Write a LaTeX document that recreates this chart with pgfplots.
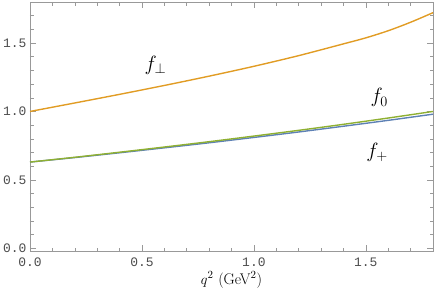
\documentclass[border=0pt]{standalone}
\usepackage{pgfplots}
\pgfplotsset{compat=1.18}
\usepackage{fontspec}
\newfontfamily\tickfont{Liberation Mono}
\definecolor{mblue}{rgb}{0.368,0.507,0.71}
\definecolor{morange}{rgb}{0.881,0.611,0.142}
\definecolor{mgreen}{rgb}{0.560,0.692,0.195}
\definecolor{framegray}{gray}{0.6}
\begin{document}
\begin{tikzpicture}[x=1bp,y=1bp]
\begin{axis}[
  scale only axis, width=403bp, height=249bp,
  xmin=0, xmax=1.8, ymin=-0.02, ymax=1.8,
  axis line style={framegray, line width=0.6pt},
  xtick={0,0.5,1.0,1.5}, ytick={0,0.5,1.0,1.5},
  minor xtick={0.1,0.2,0.3,0.4,0.6,0.7,0.8,0.9,1.1,1.2,1.3,1.4,1.6,1.7},
  minor ytick={0.1,0.2,0.3,0.4,0.6,0.7,0.8,0.9,1.1,1.2,1.3,1.4,1.6,1.7},
  tick style={framegray, line width=0.5pt},
  major tick length=6bp, minor tick length=3.5bp,
  tick align=inside,
  xticklabels={0.0,0.5,1.0,1.5}, yticklabels={0.0,0.5,1.0,1.5},
  ticklabel style={font=\tickfont\fontsize{13}{15}\selectfont, text=black!70},
  xticklabel style={anchor=base, yshift=-15bp},
  xlabel={$q^2$ (GeV$^2$)},
  xlabel style={font=\fontsize{15.5}{18}\selectfont, at={(axis description cs:0.5,0)}, anchor=base, yshift=-33bp},
  clip=true,
]
\addplot[mblue, line width=1.4pt, smooth] coordinates {
 (0,0.63) (0.2,0.663) (0.4,0.698) (0.6,0.734) (0.8,0.771) (1.0,0.81) (1.2,0.85) (1.4,0.892) (1.6,0.935) (1.8,0.98)};
\addplot[mgreen, line width=1.4pt, smooth] coordinates {
 (0,0.63) (0.2,0.665) (0.4,0.702) (0.6,0.74) (0.8,0.779) (1.0,0.82) (1.2,0.862) (1.4,0.906) (1.6,0.952) (1.8,1.0)};
\addplot[morange, line width=1.4pt, smooth] coordinates {
 (0,1.0) (0.2,1.062) (0.4,1.125) (0.6,1.19) (0.8,1.258) (1.0,1.33) (1.2,1.408) (1.4,1.494) (1.5,1.538) (1.6,1.590) (1.7,1.652) (1.8,1.722)};
\node[font=\fontsize{21}{24}\selectfont] at (axis cs:0.56,1.34) {$f_\perp$};
\node[font=\fontsize{21}{24}\selectfont] at (axis cs:1.56,1.10) {$f_0$};
\node[font=\fontsize{21}{24}\selectfont] at (axis cs:1.55,0.70) {$f_+$};
\end{axis}
\pgfresetboundingbox
\path (current axis.south west) ++(-30bp,-39bp) coordinate (bl);
\path (current axis.north east) ++(3bp,2bp) coordinate (tr);
\path (bl) rectangle (tr);
\end{tikzpicture}
\end{document}
